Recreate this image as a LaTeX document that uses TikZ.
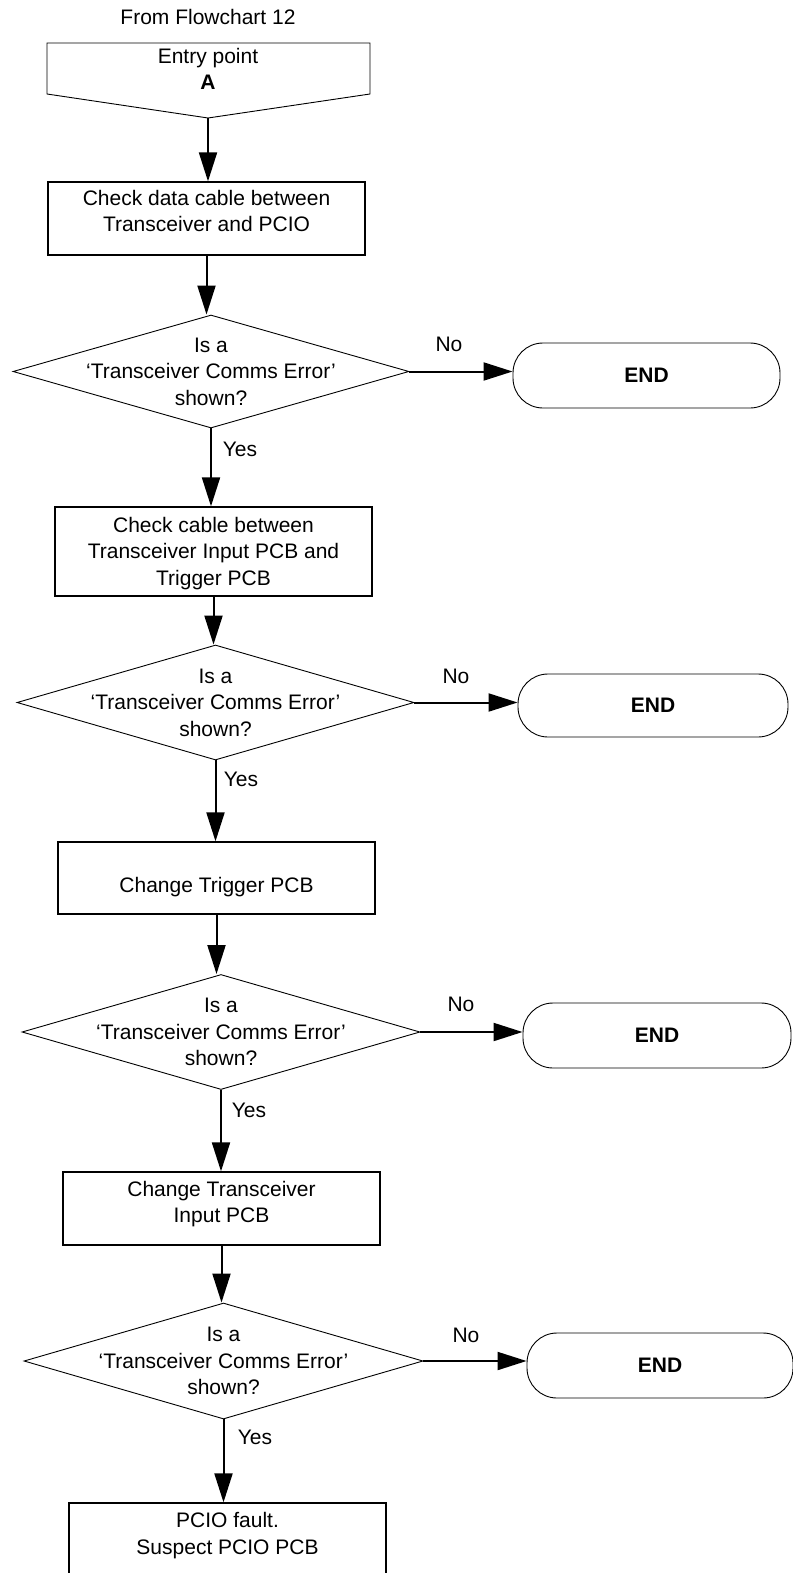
\documentclass[tikz,border=0pt]{standalone}
\usepackage{fontspec}
\setmainfont{Liberation Sans}
\usetikzlibrary{shapes.geometric,arrows.meta}
\newcommand\flowfont{\fontsize{21}{26.5}\selectfont}
\begin{document}
\begin{tikzpicture}[x=1pt,y=-1pt,
  txt/.style={font=\flowfont, align=center, inner sep=0pt},
  stepbox/.style={draw, line width=1.3pt, minimum width=317pt, inner sep=0pt},
  decision/.style={diamond, draw, line width=0.9pt, inner sep=0pt},
  terminal/.style={draw, rounded corners=30pt, line width=0.9pt, minimum width=267pt,
                   minimum height=65pt, font=\flowfont\bfseries, inner sep=0pt},
  arr/.style={line width=2pt, -{Triangle[length=29pt,width=18pt]}}]
\useasboundingbox (0,0) rectangle (792,1573);

% entry point
\node[txt] (title) at (208,17) {From Flowchart 12};
\draw[line width=0.9pt] (47,43) -- (370,43) -- (370,94) -- (208,118) -- (47,94) -- cycle;
\coordinate (entrytip) at (208,118);
\node[txt] (entry) at (208,69) {Entry point\\\textbf{A}};

% process steps
\node[stepbox, minimum height=73pt] (b1) at (206.5,218.5) {};
\node[txt, yshift=7.5pt] (b1t) at (b1) {Check data cable between\\Transceiver and PCIO};
\node[stepbox, minimum height=89pt] (b2) at (213.5,551.5) {};
\node[txt, yshift=-2pt] (b2t) at (b2) {Check cable between\\Transceiver Input PCB and\\Trigger PCB};
\node[stepbox, minimum height=72pt] (b3) at (216.5,878) {};
\node[txt, yshift=-9pt] (b3t) at (b3) {Change Trigger PCB};
\node[stepbox, minimum height=73pt] (b4) at (221.5,1208.5) {};
\node[txt, yshift=4.3pt] (b4t) at (b4) {Change Transceiver\\Input PCB};
\node[stepbox, minimum height=73pt] (b5) at (227.5,1539.5) {};
\node[txt, yshift=4pt] (b5t) at (b5) {PCIO fault.\\Suspect PCIO PCB};

% decisions
\node[decision, minimum width=396pt, minimum height=113pt] (d1) at (211,371.5) {};
\node[txt] (d1t) at (d1) {Is a\\‘Transceiver Comms Error’\\shown?};
\node[decision, minimum width=397pt, minimum height=115pt] (d2) at (215.5,702.5) {};
\node[txt] (d2t) at (d2) {Is a\\‘Transceiver Comms Error’\\shown?};
\node[decision, minimum width=398pt, minimum height=115pt] (d3) at (221,1032) {};
\node[txt] (d3t) at (d3) {Is a\\‘Transceiver Comms Error’\\shown?};
\node[decision, minimum width=399pt, minimum height=116pt] (d4) at (223.5,1361) {};
\node[txt] (d4t) at (d4) {Is a\\‘Transceiver Comms Error’\\shown?};

% terminals
\node[terminal] (e1) at (646.5,375.5) {END};
\node[terminal, minimum width=270pt, minimum height=63pt] (e2) at (653,705.5) {END};
\node[terminal, minimum width=268pt] (e3) at (657,1035.5) {END};
\node[terminal, minimum width=266pt] (e4) at (660,1365.5) {END};

% branch labels
\node[txt] (no1) at (449,344) {No};
\node[txt] (no2) at (456,676) {No};
\node[txt] (no3) at (461,1004) {No};
\node[txt] (no4) at (466,1335) {No};
\node[txt] (yes1) at (240,449) {Yes};
\node[txt] (yes2) at (241,779) {Yes};
\node[txt] (yes3) at (249,1110) {Yes};
\node[txt] (yes4) at (255,1437) {Yes};

% connectors
\draw[arr] (entrytip) -- (entrytip |- b1.north);
\draw[arr] (b1.south) -- (b1.south |- d1.north);
\draw[arr] (d1.south) -- (d1.south |- b2.north);
\draw[arr] (b2.south) -- (b2.south |- d2.north);
\draw[arr] (d2.south) -- (d2.south |- b3.north);
\draw[arr] (b3.south) -- (b3.south |- d3.north);
\draw[arr] (d3.south) -- (d3.south |- b4.north);
\draw[arr] (b4.south) -- (b4.south |- d4.north);
\draw[arr] (d4.south) -- (d4.south |- b5.north);
\draw[arr] (d1.east) -- (d1.east -| e1.west);
\draw[arr] (d2.east) -- (d2.east -| e2.west);
\draw[arr] (d3.east) -- (d3.east -| e3.west);
\draw[arr] (d4.east) -- (d4.east -| e4.west);
\end{tikzpicture}
\end{document}
